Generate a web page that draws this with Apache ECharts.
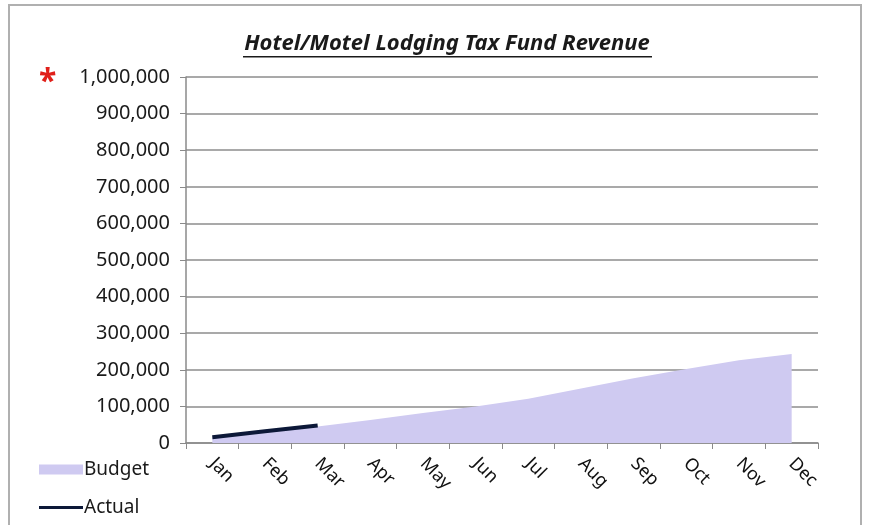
<!DOCTYPE html>
<html>
<head>
<meta charset="utf-8">
<script src="https://cdn.jsdelivr.net/npm/echarts@6/dist/echarts.min.js"></script>
<style>
  html, body { margin: 0; padding: 0; background: #fff; }
  #main { width: 872px; height: 525px; }
</style>
</head>
<body>
<div id="main"></div>
<script>
// months on the x axis
var months = ['Jan', 'Feb', 'Mar', 'Apr', 'May', 'Jun', 'Jul', 'Aug', 'Sep', 'Oct', 'Nov', 'Dec'];
// cumulative budget (area)
var budget = [15000, 29000, 45000, 63000, 82000, 100000, 121000, 149000, 177000, 202000, 226000, 243000];
// actual to date (line)
var actual = [16000, 32000, 48000];
// y tick values
var yMin = 0, yMax = 1000000, yStep = 100000;

var chart = echarts.init(document.getElementById('main'));
var font = 'Noto Sans';
var legendText = { fontFamily: font, fontSize: 19, color: '#1a1a1a', padding: [0, 0, 0, -4] };

chart.setOption({
    animation: false,
    graphic: [
        // chart frame
        { type: 'rect', shape: { x: 9, y: 5, width: 852, height: 530 },
          style: { fill: 'none', stroke: '#b0b0b0', lineWidth: 2 } },
        // title + underline
        { type: 'text', x: 447, y: 44,
          style: { text: 'Hotel/Motel Lodging Tax Fund Revenue', fill: '#1a1a1a',
                   font: 'italic bold 22px ' + font, align: 'center', verticalAlign: 'middle' } },
        { type: 'rect', shape: { x: 243, y: 56, width: 409, height: 1.5 },
          style: { fill: '#1a1a1a' } },
        // red asterisk
        { type: 'text', left: 39, top: 67,
          style: { text: '*', fill: '#e0201a', font: 'bold 32px ' + font } }
    ],
    legend: [
        {
            left: 34, top: 455,
            itemWidth: 44, itemHeight: 10,
            textStyle: legendText,
            data: [{ name: 'Budget', icon: 'rect' }]
        },
        {
            left: 34, top: 493,
            itemWidth: 44, itemHeight: 3,
            textStyle: legendText,
            data: [{ name: 'Actual', icon: 'rect' }]
        }
    ],
    grid: { left: 186, right: 54, top: 77, bottom: 82 },
    xAxis: {
        type: 'category',
        data: months,
        boundaryGap: true,
        axisLine: { lineStyle: { color: '#8a8a8a', width: 1.5 } },
        axisTick: { show: true, length: 6, lineStyle: { color: '#8a8a8a' } },
        axisLabel: {
            rotate: -45,
            margin: 18,
            fontFamily: font,
            fontSize: 18,
            color: '#111'
        }
    },
    yAxis: {
        type: 'value',
        min: yMin,
        max: yMax,
        interval: yStep,
        axisLine: { show: true, lineStyle: { color: '#8a8a8a', width: 1.5 } },
        axisTick: { show: true, length: 6, lineStyle: { color: '#8a8a8a' } },
        splitLine: { lineStyle: { color: '#8c8c8c', width: 1.5 } },
        axisLabel: {
            margin: 16,
            fontFamily: font,
            fontSize: 20,
            color: '#1a1a1a',
            formatter: function (v) { return v.toLocaleString('en-US'); }
        }
    },
    series: [
        {
            name: 'Budget',
            type: 'line',
            data: budget,
            symbol: 'none',
            lineStyle: { width: 0 },
            itemStyle: { color: '#cfcaf1' },
            areaStyle: { color: '#cfcaf1', opacity: 1 },
            z: 1
        },
        {
            name: 'Actual',
            type: 'line',
            data: actual,
            symbol: 'none',
            lineStyle: { width: 4, color: '#0c1838' },
            itemStyle: { color: '#0c1838' },
            z: 3
        }
    ]
});
</script>
</body>
</html>
